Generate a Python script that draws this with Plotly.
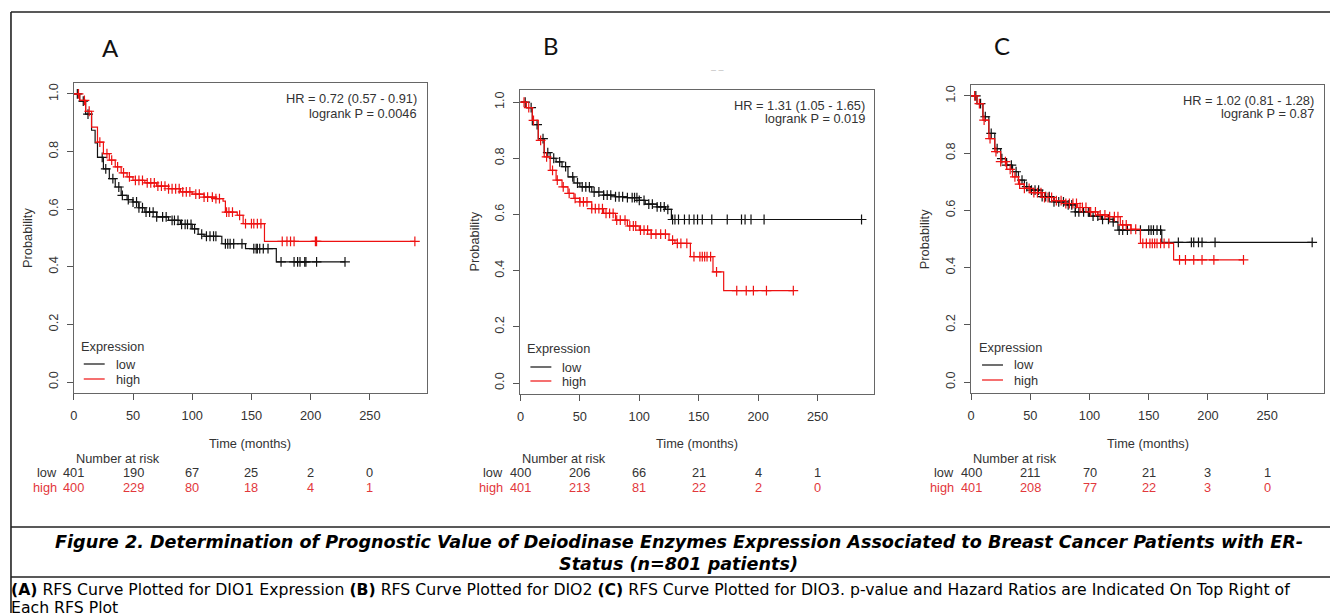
import plotly.graph_objects as go

W, H = 1330, 613

# ---------------- data ----------------
risk_times = [0, 50, 100, 150, 200, 250]
tick_vals_y = [0.0, 0.2, 0.4, 0.6, 0.8, 1.0]

# Panel A (DIO1)
a_low_t = [0, 5, 10, 15, 18, 20, 25, 30, 35, 40, 45, 50, 55, 60, 70, 80, 90, 100, 105, 110, 125, 145, 171, 229]
a_low_s = [1.0, 0.975, 0.93, 0.874, 0.83, 0.78, 0.74, 0.706, 0.677, 0.648, 0.633, 0.625, 0.605, 0.59, 0.573, 0.561, 0.547, 0.532, 0.513, 0.506, 0.48, 0.463, 0.417, 0.417]
a_low_cens = [3, 8, 12, 24, 27, 33, 38, 41, 46, 50, 53, 55, 58, 61, 64, 67, 70, 75, 78, 83, 85, 88, 91, 94, 96, 99,
              102, 108, 112, 115, 118, 120, 128, 130, 132, 135, 142, 152, 154, 155, 157, 160, 164, 175, 186,
              189, 191, 195, 196, 205, 229]
a_high_t = [0, 5, 10, 15, 20, 25, 30, 35, 40, 45, 50, 60, 70, 80, 90, 100, 110, 120, 126, 128, 138, 143, 161, 288]
a_high_s = [1.0, 0.978, 0.94, 0.885, 0.833, 0.793, 0.77, 0.747, 0.726, 0.712, 0.70, 0.691, 0.68, 0.671, 0.66, 0.652,
            0.642, 0.637, 0.628, 0.59, 0.579, 0.55, 0.488, 0.488]
a_high_cens = [4, 9, 13, 22, 28, 32, 37, 42, 47, 52, 55, 58, 62, 65, 68, 71, 74, 77, 80, 83, 86, 89, 92, 95, 98, 103,
               106, 110, 113, 117, 120, 123, 129, 131, 134, 140, 145, 150, 152, 155, 158, 176, 180, 183, 186, 204,
               205, 288]
a_risk_low = [401, 190, 67, 25, 2, 0]
a_risk_high = [400, 229, 80, 18, 4, 1]

# Panel B (DIO2)
b_low_t = [0, 5, 10, 15, 20, 25, 30, 35, 40, 45, 50, 60, 70, 80, 90, 100, 105, 115, 122, 127, 287]
b_low_s = [1.0, 0.98, 0.92, 0.87, 0.82, 0.80, 0.787, 0.77, 0.734, 0.712, 0.698, 0.68, 0.669, 0.663, 0.66, 0.65,
           0.637, 0.627, 0.618, 0.582, 0.582]
b_low_cens = [4, 9, 14, 19, 23, 28, 33, 38, 44, 48, 52, 55, 58, 62, 66, 70, 73, 76, 80, 83, 86, 90, 94, 96, 98, 100,
              104, 108, 111, 115, 118, 121, 124, 128, 130, 133, 138, 142, 146, 149, 153, 161, 174, 186, 189, 194,
              205, 287]
b_high_t = [0, 5, 10, 15, 20, 25, 30, 35, 40, 45, 50, 60, 70, 80, 90, 100, 110, 125, 130, 143, 162, 171, 229.6]
b_high_s = [1.0, 0.98, 0.935, 0.864, 0.805, 0.757, 0.722, 0.698, 0.675, 0.657, 0.645, 0.621, 0.604, 0.58, 0.559,
            0.544, 0.53, 0.509, 0.497, 0.45, 0.396, 0.329, 0.329]
b_high_cens = [3, 7, 11, 17, 22, 27, 31, 36, 41, 46, 50, 53, 56, 60, 63, 66, 69, 72, 75, 78, 81, 84, 88, 92, 95, 97,
               101, 104, 107, 110, 114, 118, 122, 128, 132, 135, 140, 146, 151, 153, 155, 157, 160, 165, 182, 190,
               196, 207, 229.6]
b_risk_low = [400, 206, 66, 21, 4, 1]
b_risk_high = [401, 213, 81, 22, 2, 0]

# Panel C (DIO3)
c_low_t = [0, 5, 10, 15, 20, 25, 30, 35, 40, 45, 50, 60, 70, 80, 88, 100, 110, 120, 124, 161, 288]
c_low_s = [1.0, 0.973, 0.927, 0.869, 0.816, 0.781, 0.758, 0.735, 0.706, 0.683, 0.671, 0.648, 0.63, 0.619, 0.595,
           0.58, 0.569, 0.56, 0.531, 0.488, 0.488]
c_low_cens = [4, 8, 12, 17, 22, 26, 30, 34, 38, 43, 47, 51, 54, 57, 60, 63, 66, 70, 74, 78, 82, 85, 88, 91, 95, 99,
              103, 107, 111, 116, 120, 125, 128, 132, 143, 150, 152, 154, 157, 160, 175, 186, 188, 192, 195, 206,
              288]
c_high_t = [0, 5, 10, 15, 20, 25, 30, 35, 40, 45, 50, 60, 70, 80, 90, 100, 107, 115, 126, 135, 143, 171, 230]
c_high_s = [1.0, 0.973, 0.915, 0.851, 0.805, 0.77, 0.743, 0.717, 0.692, 0.677, 0.662, 0.645, 0.634, 0.624, 0.61,
            0.595, 0.584, 0.578, 0.549, 0.534, 0.485, 0.427, 0.427]
c_high_cens = [3, 7, 11, 16, 21, 25, 29, 33, 37, 41, 45, 49, 53, 56, 59, 62, 65, 68, 72, 76, 80, 83, 86, 89, 92, 94,
               97, 101, 105, 109, 113, 117, 121, 124, 128, 131, 135, 139, 145, 148, 151, 153, 155, 157, 160, 163,
               167, 176, 181, 188, 195, 205, 230]
c_risk_low = [400, 211, 70, 21, 3, 1]
c_risk_high = [401, 208, 77, 22, 3, 0]

hr_texts = ["HR = 0.72 (0.57 - 0.91)", "HR = 1.31 (1.05 - 1.65)", "HR = 1.02 (0.81 - 1.28)"]
p_texts = ["logrank P = 0.0046", "logrank P = 0.019", "logrank P = 0.87"]
panel_letters = ["A", "B", "C"]
group_labels = ["low", "high"]

caption1 = "Figure 2. Determination of Prognostic Value of Deiodinase Enzymes Expression Associated to Breast Cancer Patients with ER-"
caption2 = "Status (n=801 patients)"
desc1 = ("<b>(A)</b> RFS Curve Plotted for DIO1 Expression <b>(B)</b> RFS Curve Plotted for DIO2 "
         "<b>(C)</b> RFS Curve Plotted for DIO3. p-value and Hazard Ratios are Indicated On Top Right of")
desc2 = "Each RFS Plot"

# ---------------- layout config (pixel positions) ----------------
panels = [
    dict(data=(a_low_t, a_low_s, a_low_cens, a_high_t, a_high_s, a_high_cens, a_risk_low, a_risk_high),
         xdom=(70, 424), ydom=(83, 393), xr=(0, 298), yr=(-0.038, 1.038),
         letter=(107, 47), hr_right=416, hr_y=(98, 113), leg_x=75, leg_y=(346, 364, 379), prob_x=23),
    dict(data=(b_low_t, b_low_s, b_low_cens, b_high_t, b_high_s, b_high_cens, b_risk_low, b_risk_high),
         xdom=(518, 873), ydom=(90, 394), xr=(0, 297.8), yr=(-0.039, 1.043),
         letter=(549, 45), hr_right=866, hr_y=(105, 119), leg_x=523, leg_y=(348, 367, 381), prob_x=472),
    dict(data=(c_low_t, c_low_s, c_low_cens, c_high_t, c_high_s, c_high_cens, c_risk_low, c_risk_high),
         xdom=(970, 1324), ydom=(85, 393), xr=(0, 298), yr=(-0.038, 1.038),
         letter=(1001, 45), hr_right=1316, hr_y=(101, 114), leg_x=976, leg_y=(347, 365, 380), prob_x=923),
]

BLACK = "#111111"
RED = "#ee1111"
TXT = "#333333"
RTXT = "#e2383c"
FONT = "Liberation Sans"
FS = 12.8


def px(x):
    return x / W


def py(y):
    return 1 - y / H


def surv_at(ts, ss, t):
    v = ss[0]
    for ti, si in zip(ts, ss):
        if ti <= t:
            v = si
    return v


fig = go.Figure()
annotations = []
shapes = []

for i, p in enumerate(panels):
    sfx = "" if i == 0 else str(i + 1)
    xa, ya = "x" + sfx, "y" + sfx
    lt, ls, lc, ht, hs, hc, rl, rh = p["data"]
    for (t, s, c, col) in [(lt, ls, lc, BLACK), (ht, hs, hc, RED)]:
        fig.add_trace(go.Scatter(x=t, y=s, mode="lines", line=dict(color=col, width=1.2, shape="hv"),
                                 xaxis=xa, yaxis=ya, showlegend=False, hoverinfo="skip"))
        fig.add_trace(go.Scatter(x=c, y=[surv_at(t, s, ci) for ci in c], mode="markers",
                                 marker=dict(symbol="cross-thin", size=7, line=dict(color=col, width=1.2)),
                                 xaxis=xa, yaxis=ya, showlegend=False, hoverinfo="skip"))

    common = dict(showgrid=False, zeroline=False, showline=True, linecolor="#666", linewidth=1, mirror=True,
                  ticks="outside", ticklen=6, tickcolor="#555", tickwidth=1,
                  tickfont=dict(family=FONT, size=FS, color=TXT))
    fig.update_layout(**{
        "xaxis" + sfx: dict(domain=[px(p["xdom"][0]), px(p["xdom"][1])], range=list(p["xr"]),
                            tickvals=risk_times, anchor=ya, ticklabelstandoff=5, **common),
        "yaxis" + sfx: dict(domain=[py(p["ydom"][1]), py(p["ydom"][0])], range=list(p["yr"]),
                            tickvals=tick_vals_y, tickformat=".1f", tickangle=-90, anchor=xa,
                            ticklabelstandoff=4, **common),
    })

    def A(text, x, y, xanchor="center", size=FS, color=TXT, xref="paper", **kw):
        annotations.append(dict(text=text, x=x, y=py(y), xref=xref, yref="paper", xanchor=xanchor,
                                yanchor="middle", showarrow=False,
                                font=dict(family=kw.pop("family", FONT), size=size, color=color), **kw))

    # panel letter
    A(panel_letters[i], px(p["letter"][0]), p["letter"][1], size=24, color="#111", family="Lato")
    # HR / logrank
    A(hr_texts[i], px(p["hr_right"]), p["hr_y"][0], xanchor="right")
    A(p_texts[i], px(p["hr_right"]), p["hr_y"][1], xanchor="right")
    # y title
    A("Probability", px(p["prob_x"]), (p["ydom"][0] + p["ydom"][1]) / 2, textangle=-90)
    # x title
    A("Time (months)", px((p["xdom"][0] + p["xdom"][1]) / 2), 443)
    # legend
    lx = p["leg_x"]
    A("Expression", px(lx), p["leg_y"][0], xanchor="left")
    for gi, (lab, col) in enumerate([(group_labels[0], BLACK), (group_labels[1], RED)]):
        yy = p["leg_y"][gi + 1]
        shapes.append(dict(type="line", xref="paper", yref="paper", x0=px(lx + 5), x1=px(lx + 26),
                           y0=py(yy), y1=py(yy), line=dict(color=col, width=1.2)))
        A(lab, px(lx + 35), yy, xanchor="left")
    # number at risk
    A("Number at risk", 0, 458, xanchor="left", xref=xa)
    A(group_labels[0], 0, 472, xanchor="right", xref=xa, xshift=-15)
    A(group_labels[1], 0, 487, xanchor="right", xref=xa, xshift=-15, color=RTXT)
    for tv, nl, nh in zip(risk_times, rl, rh):
        A(str(nl), tv, 472, xref=xa)
        A(str(nh), tv, 487, xref=xa, color=RTXT)

# caption and description
CAPF = "DejaVu Sans"
annotations.append(dict(text="<b><i>" + caption1 + "</i></b>", x=px(677), y=py(542), xref="paper", yref="paper",
                        xanchor="center", yanchor="middle", showarrow=False,
                        font=dict(family=CAPF, size=17.6, color="#000")))
annotations.append(dict(text="<b><i>" + caption2 + "</i></b>", x=px(677), y=py(564), xref="paper", yref="paper",
                        xanchor="center", yanchor="middle", showarrow=False,
                        font=dict(family=CAPF, size=17.6, color="#000")))
annotations.append(dict(text=desc1, x=px(5), y=py(589), xref="paper", yref="paper",
                        xanchor="left", yanchor="middle", showarrow=False,
                        font=dict(family=CAPF, size=15.7, color="#000")))
annotations.append(dict(text=desc2, x=px(5), y=py(607), xref="paper", yref="paper",
                        xanchor="left", yanchor="middle", showarrow=False,
                        font=dict(family=CAPF, size=15.7, color="#000")))
# small grey artefact mark
annotations.append(dict(text="\u2013 \u2013", x=px(716), y=py(70), xref="paper", yref="paper",
                        xanchor="center", yanchor="middle", showarrow=False,
                        font=dict(family=FONT, size=9, color="#bbb")))

# frame lines
for (x0, y0, x1, y1) in [(7, 12, 1330, 12), (7, 12, 7, 613), (7, 527, 1330, 527), (7, 577, 1330, 577)]:
    shapes.append(dict(type="line", xref="paper", yref="paper", x0=px(x0), y0=py(y0), x1=px(x1), y1=py(y1),
                       line=dict(color="#222", width=1.6)))

fig.update_layout(width=W, height=H, margin=dict(l=0, r=0, t=0, b=0), paper_bgcolor="white",
                  plot_bgcolor="white", annotations=annotations, shapes=shapes, showlegend=False)

fig.write_html("out.html", config={"displayModeBar": False},
               post_script="document.body.style.margin='0px';document.body.style.overflow='hidden';")
